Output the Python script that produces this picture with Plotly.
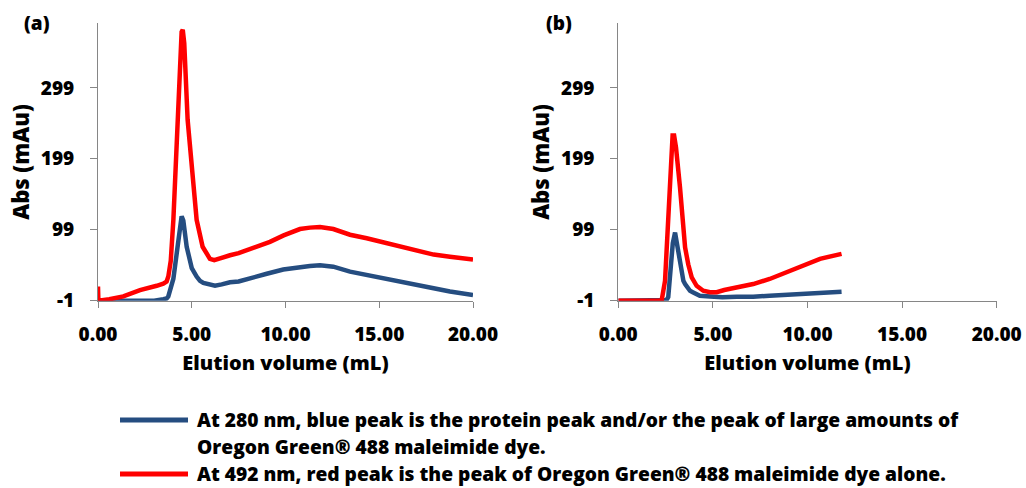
import plotly.graph_objects as go

# ---------------- data ----------------
# Panel (a)
a_red_x = [0, 0.02, 0.6, 1.35, 2.24, 2.77, 3.13, 3.48, 3.66, 3.75, 3.88, 4.02, 4.25, 4.38, 4.46,
           4.52, 4.6, 4.78, 5.08, 5.26, 5.58, 5.97, 6.2, 6.6, 7.04, 7.5, 7.93, 8.6, 9.17, 9.9, 10.77,
           11.3, 11.84, 12.55, 13.0, 13.44, 14.33, 15.2, 16.1, 17.0, 17.9, 18.77, 19.4, 20.0]
a_red_y = [19, -1, 1, 5, 14, 17, 20, 23, 26, 33, 55, 113, 254, 340, 378,
           381, 362, 254, 160, 113, 75, 58, 56, 60, 63, 66, 70, 76, 82, 91, 100,
           102, 103, 100, 96, 92, 87, 81, 75, 70, 64, 61, 59, 57]

a_blue_x = [0, 1.0, 2.0, 3.0, 3.48, 3.66, 3.75, 3.93, 4.02, 4.2, 4.35, 4.46, 4.55, 4.73, 4.9,
            5.0, 5.26, 5.44, 5.62, 5.97, 6.24, 6.6, 7.04, 7.5, 8.1, 9.0, 9.88, 10.77, 11.3,
            11.84, 12.55, 13.44, 14.33, 15.2, 16.1, 17.0, 17.9, 18.77, 20.0]
a_blue_y = [-1, -1, -1, -1, 1, 2, 5, 19, 30, 66, 100, 118, 112, 75, 56,
            45, 33, 27, 24, 21, 20, 22, 25, 26, 31, 37, 43, 47, 48,
            49, 47, 40, 35, 31, 26, 21, 16.5, 12, 7]

# Panel (b)
b_red_x = [0, 1.0, 2.0, 2.29, 2.47, 2.64, 2.78, 2.87, 2.95, 3.05, 3.26, 3.44, 3.53, 3.7, 3.88, 4.14,
           4.49, 4.85, 5.2, 5.6, 6.26, 7.13, 8.0, 8.9, 9.78, 10.66, 11.8]
b_red_y = [-1, -1, -1, -1, 27, 112, 200, 232, 232, 215, 159, 102, 74, 50, 32, 20,
           13, 11, 11, 14, 18, 22.5, 29.6, 39, 48.5, 58, 65]

b_blue_x = [0, 1.0, 2.0, 2.38, 2.55, 2.64, 2.77, 2.88, 3.0, 3.1, 3.26, 3.44, 3.53, 3.79, 3.96,
            4.31, 4.85, 5.5, 6.26, 7.13, 8.0, 8.9, 9.8, 10.66, 11.8]
b_blue_y = [-1, -1, -1, -1, 0, 4, 46, 80, 95, 80, 51, 27, 22.5, 13, 10.7,
            6, 5, 4, 4.6, 4.5, 6, 7.5, 9, 10, 11.7]

y_tick_vals = [-1, 99, 199, 299]
y_tick_text = ["-1", "99", "199", "299"]
x_tick_vals = [0, 5, 10, 15, 20]
x_tick_text = ["0.00", "5.00", "10.00", "15.00", "20.00"]

panel_labels = ["(a)", "(b)"]
legend_lines = [
    "At 280 nm, blue peak is the protein peak and/or the peak of large amounts of",
    "Oregon Green\u00ae 488 maleimide dye.",
    "At 492 nm, red peak is the peak of Oregon Green\u00ae 488 maleimide dye alone.",
]

BLUE = "#254D80"
RED = "#FF0000"
AXIS = "#868686"
FONT = "'Open Sans', Lato, sans-serif"
WEIGHT = 800

W, H = 1026, 488

fig = go.Figure()
fig.add_trace(go.Scatter(x=a_blue_x, y=a_blue_y, mode="lines", line=dict(color=BLUE, width=4.5),
                         xaxis="x", yaxis="y", showlegend=False))
fig.add_trace(go.Scatter(x=a_red_x, y=a_red_y, mode="lines", line=dict(color=RED, width=4.5),
                         xaxis="x", yaxis="y", showlegend=False))
fig.add_trace(go.Scatter(x=b_blue_x, y=b_blue_y, mode="lines", line=dict(color=BLUE, width=4.5),
                         xaxis="x2", yaxis="y2", showlegend=False))
fig.add_trace(go.Scatter(x=b_red_x, y=b_red_y, mode="lines", line=dict(color=RED, width=4.5),
                         xaxis="x2", yaxis="y2", showlegend=False))

tick_font = dict(family=FONT, size=19, color="black", weight=WEIGHT)

def xaxis(domain, anchor):
    return dict(domain=domain, anchor=anchor, range=[0, 20], tickvals=x_tick_vals, ticktext=x_tick_text,
                automargin=False,
                showgrid=False, zeroline=False, showline=True, linecolor=AXIS, linewidth=1,
                ticks="outside", ticklen=6, tickcolor=AXIS, tickfont=tick_font, ticklabelstandoff=10,
                title=dict(text="Elution volume (mL)", standoff=10,
                           font=dict(family=FONT, size=20, color="black", weight=WEIGHT)))

def yaxis(domain, anchor):
    return dict(domain=domain, anchor=anchor, range=[-1, 390], tickvals=y_tick_vals, ticktext=y_tick_text,
                automargin=False,
                showgrid=False, zeroline=False, showline=True, linecolor=AXIS, linewidth=1,
                ticks="outside", ticklen=7, tickcolor=AXIS, tickfont=tick_font, ticklabelstandoff=12,
                title=dict(text="Abs (mAu)", standoff=5,
                           font=dict(family=FONT, size=22, color="black", weight=WEIGHT)))

ydom = [1 - 300.7 / H, 1 - 23.3 / H]
fig.update_layout(
    template="none",
    width=W, height=H, margin=dict(l=0, r=0, t=0, b=0, autoexpand=False),
    paper_bgcolor="white", plot_bgcolor="white",
    xaxis=xaxis([98 / W, 473 / W], "y"),
    yaxis=yaxis(ydom, "x"),
    xaxis2=xaxis([618.3 / W, 996.7 / W], "y2"),
    yaxis2=yaxis(ydom, "x2"),
    showlegend=False,
)

# panel labels
for lab, px in zip(panel_labels, [37, 559]):
    fig.add_annotation(x=px / W, y=1 - 23 / H, xref="paper", yref="paper", text=lab, showarrow=False,
                       xanchor="center", yanchor="middle",
                       font=dict(family=FONT, size=19, color="black", weight=WEIGHT))

# legend (drawn manually so the symbol aligns with the first text line)
for txt, py in zip(legend_lines, [419, 446, 473]):
    fig.add_annotation(x=195 / W, y=1 - py / H, xref="paper", yref="paper", text=txt, showarrow=False,
                       xanchor="left", yanchor="middle",
                       font=dict(family=FONT, size=19.2, color="black", weight=WEIGHT))
for col, py in zip([BLUE, RED], [420, 474]):
    fig.add_shape(type="line", xref="paper", yref="paper", x0=120 / W, x1=188 / W,
                  y0=1 - py / H, y1=1 - py / H, line=dict(color=col, width=5))

fig.write_html("out.html")
